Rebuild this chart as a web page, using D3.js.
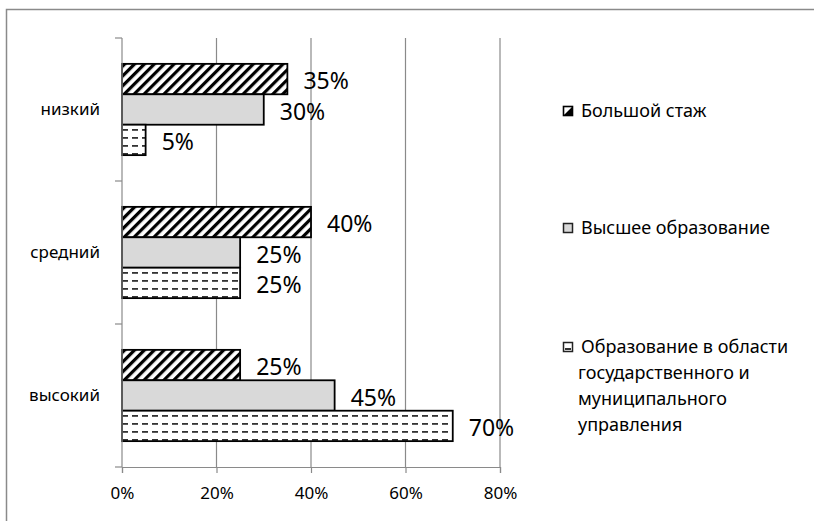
<!DOCTYPE html>
<html>
<head>
<meta charset="utf-8">
<script src="https://cdn.jsdelivr.net/npm/d3@7"></script>
<style>
  body { margin: 0; background: #fff; }
  svg { font-family: "Noto Sans", sans-serif; }
</style>
</head>
<body>
<div id="chart"></div>
<script>
const categories = ["низкий", "средний", "высокий"];
const seriesNames = ["Большой стаж", "Высшее образование", "Образование в области государственного и муниципального управления"];
const legendLines = [["Большой стаж"], ["Высшее образование"], ["Образование в области", "государственного и", "муниципального", "управления"]];
const stazh = [35, 40, 25];
const vyssh = [30, 25, 45];
const gmu = [5, 25, 70];
const xTicks = [0, 20, 40, 60, 80];

const values = [stazh, vyssh, gmu];
const width = 814, height = 521;
const margin = { top: 38, left: 122, right: 314, bottom: 54 };

const svg = d3.select("#chart").append("svg")
    .attr("width", width)
    .attr("height", height);

const defs = svg.append("defs");

// diagonal hatch
const hatch = defs.append("pattern")
    .attr("id", "hatch")
    .attr("patternUnits", "userSpaceOnUse")
    .attr("width", 7).attr("height", 7)
    .attr("patternTransform", "rotate(45)");
hatch.append("rect").attr("width", 7).attr("height", 7).attr("fill", "#fff");
hatch.append("rect").attr("width", 3.2).attr("height", 7).attr("fill", "#000");

// dashed horizontal lines
const dash = defs.append("pattern")
    .attr("id", "dash")
    .attr("patternUnits", "userSpaceOnUse")
    .attr("width", 10).attr("height", 8);
dash.append("rect").attr("width", 10).attr("height", 8).attr("fill", "#fff");
dash.append("rect").attr("x", 2).attr("y", 3).attr("width", 6).attr("height", 1.8).attr("fill", "#333");

const fills = ["url(#hatch)", "#d9d9d9", "url(#dash)"];

// outer border
svg.append("rect")
    .attr("x", 6.5).attr("y", 9.5)
    .attr("width", width).attr("height", height)
    .attr("fill", "none")
    .attr("stroke", "#8a8a8a")
    .attr("stroke-width", 1.5);

const x = d3.scaleLinear()
    .domain([0, 80])
    .range([margin.left, width - margin.right]);

const y = d3.scaleBand()
    .domain(categories)
    .range([margin.top, height - margin.bottom]);

const inner = d3.scaleBand()
    .domain(d3.range(seriesNames.length))
    .range([0, y.bandwidth()])
    .paddingOuter(0.85)
    .paddingInner(0);

// gridlines
svg.append("g")
    .selectAll("line")
    .data(xTicks.slice(1))
    .enter().append("line")
    .attr("x1", d => x(d)).attr("x2", d => x(d))
    .attr("y1", margin.top).attr("y2", height - margin.bottom)
    .attr("stroke", "#8a8a8a")
    .attr("stroke-width", 1.2);

// bars
const group = svg.append("g")
    .selectAll(".cat")
    .data(categories)
    .enter().append("g")
    .attr("class", "cat")
    .attr("transform", d => `translate(0,${y(d)})`);

group.selectAll("rect")
    .data((d, ci) => values.map((s, si) => ({ si, v: s[ci] })))
    .enter().append("rect")
    .attr("x", x(0))
    .attr("y", d => inner(d.si))
    .attr("width", d => x(d.v) - x(0))
    .attr("height", inner.bandwidth())
    .attr("fill", d => fills[d.si])
    .attr("stroke", "#000")
    .attr("stroke-width", 1.8);

group.selectAll(".lbl")
    .data((d, ci) => values.map((s, si) => ({ si, v: s[ci] })))
    .enter().append("text")
    .attr("class", "lbl")
    .attr("x", d => x(d.v) + 16)
    .attr("y", d => inner(d.si) + inner.bandwidth() / 2 + 2)
    .attr("dy", "0.35em")
    .style("font-size", "23px")
    .style("fill", "#000")
    .text(d => d.v + "%");

// x axis
const xAxis = d3.axisBottom(x)
    .tickValues(xTicks)
    .tickSize(6)
    .tickPadding(14)
    .tickFormat(d => d + "%");

const xg = svg.append("g")
    .attr("transform", `translate(0,${height - margin.bottom})`)
    .call(xAxis);
xg.select(".domain").attr("stroke", "#8a8a8a").attr("stroke-width", 1.2);
xg.selectAll(".tick line").attr("stroke", "#8a8a8a").attr("stroke-width", 1.2);
xg.selectAll("text").style("font-size", "17px").style("font-family", "Noto Sans").attr("fill", "#000");

// y axis: ticks at category boundaries
const yg = svg.append("g")
    .attr("transform", `translate(${margin.left},0)`);
yg.append("line")
    .attr("y1", margin.top).attr("y2", height - margin.bottom)
    .attr("stroke", "#8a8a8a").attr("stroke-width", 1.2);
const bounds = categories.map(c => y(c)).concat([y.range()[1]]);
yg.selectAll(".yt")
    .data(bounds)
    .enter().append("line")
    .attr("class", "yt")
    .attr("x1", -7).attr("x2", 0)
    .attr("y1", d => d).attr("y2", d => d)
    .attr("stroke", "#8a8a8a").attr("stroke-width", 1.2);
yg.selectAll(".yl")
    .data(categories)
    .enter().append("text")
    .attr("class", "yl")
    .attr("x", -22)
    .attr("y", d => y(d) + y.bandwidth() / 2)
    .attr("dy", "0.35em")
    .attr("text-anchor", "end")
    .style("font-size", "17px")
    .text(d => d);

// legend
const legendY = [111, 228, 347];
const legend = svg.append("g")
    .selectAll(".entry")
    .data(legendLines)
    .enter().append("g")
    .attr("class", "entry")
    .attr("transform", (d, i) => `translate(563,${legendY[i]})`);

// icons
legend.each(function(d, i) {
    const g = d3.select(this);
    if (i === 0) {
        g.append("rect").attr("x", 0.5).attr("y", -4.5).attr("width", 9).attr("height", 9)
            .attr("fill", "#fff").attr("stroke", "#000").attr("stroke-width", 1.6);
        g.append("path").attr("d", "M9.5,-4.5 L9.5,4.5 L0.5,4.5 Z").attr("fill", "#000");
    } else if (i === 1) {
        g.append("rect").attr("x", 0.5).attr("y", -4.5).attr("width", 9).attr("height", 9)
            .attr("fill", "#d9d9d9").attr("stroke", "#222").attr("stroke-width", 1.5);
    } else {
        g.append("rect").attr("x", 0.5).attr("y", -4.5).attr("width", 9).attr("height", 9)
            .attr("fill", "#fff").attr("stroke", "#222").attr("stroke-width", 1.5);
        g.append("rect").attr("x", 2).attr("y", 1).attr("width", 6).attr("height", 2)
            .attr("fill", "#333");
    }
});

legend.selectAll("text")
    .data(d => d)
    .enter().append("text")
    .attr("x", (d, j) => j === 0 ? 18 : 15)
    .attr("y", (d, j) => j * 26)
    .attr("dy", "0.35em")
    .style("font-size", "18px")
    .text(d => d);
</script>
</body>
</html>
